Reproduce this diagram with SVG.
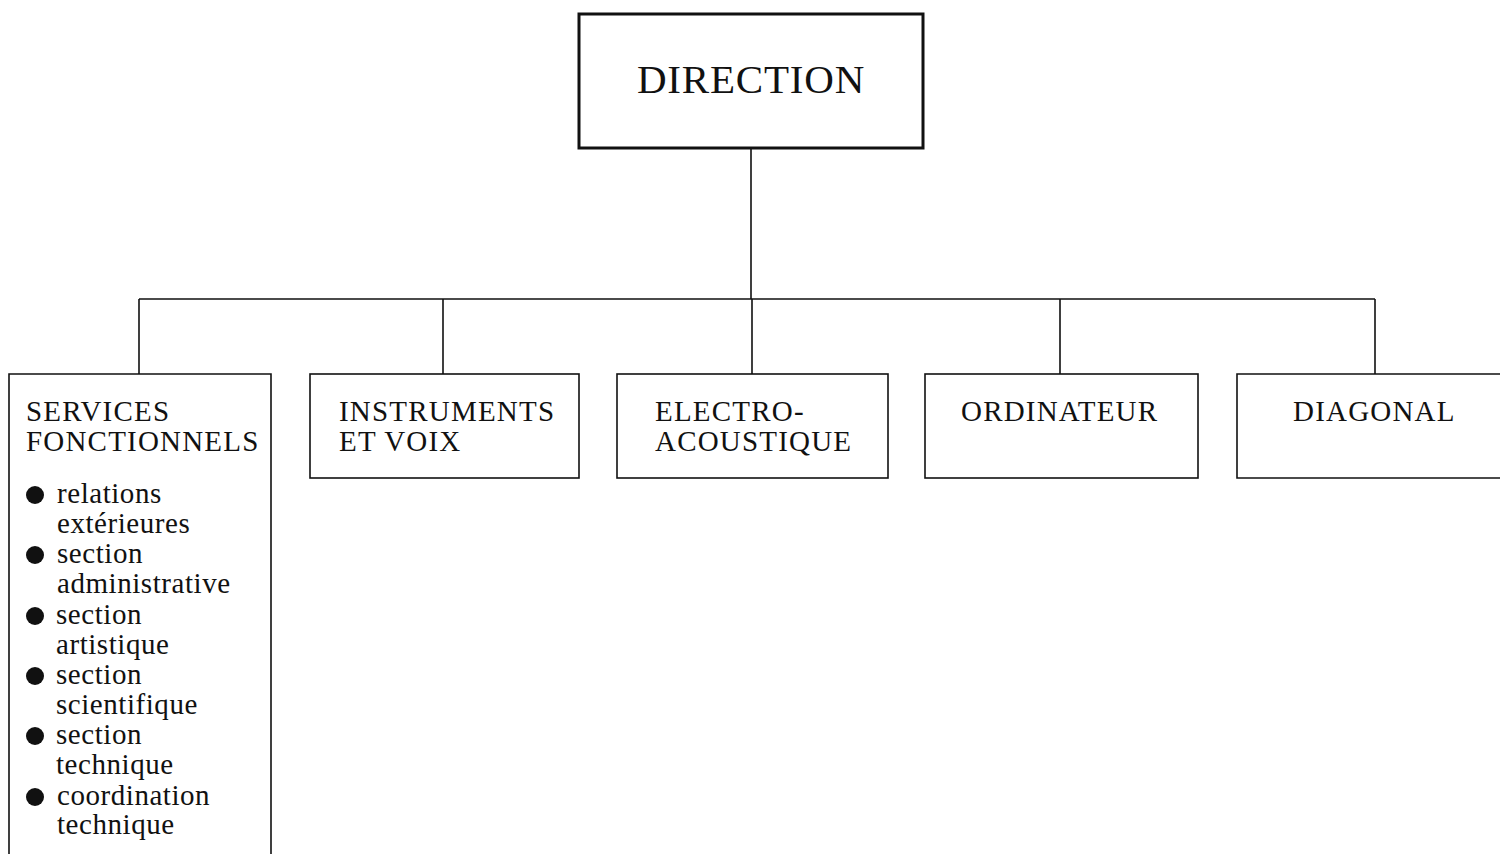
<svg xmlns="http://www.w3.org/2000/svg" width="1500" height="854" viewBox="0 0 1500 854">
<style>
.box{fill:#fff;stroke:#111;stroke-width:1.6}
.main{fill:#fff;stroke:#111;stroke-width:3}
.conn{fill:none;stroke:#111;stroke-width:1.6}
text{font-family:"Liberation Serif","Times New Roman",serif;fill:#111}
.cap{font-size:29px;letter-spacing:1.2px}
.low{font-size:29px;letter-spacing:0.55px}
.title{font-size:41px;letter-spacing:0.8px}
.dot{fill:#111}
</style>
<rect width="1500" height="854" fill="#fff"/>
<g id="connectors">
<path class="conn" d="M751 147V299M139 299H1375M139 299V374M443 299V374M752 299V374M1060 299V374M1375 299V374"/>
</g>
<g id="direction">
<rect class="main" x="579" y="14" width="344" height="134"/>
<text class="title" x="751" y="93" text-anchor="middle">DIRECTION</text>
</g>
<g id="services">
<path class="box" d="M9 854V374H271V854"/>
<text class="cap" x="26" y="421">SERVICES</text>
<text class="cap" x="26" y="451">FONCTIONNELS</text>
<g class="low">
<circle class="dot" cx="35" cy="495" r="9"/>
<text x="57" y="503">relations</text>
<text x="57" y="533">extérieures</text>
<circle class="dot" cx="35" cy="555" r="9"/>
<text x="57" y="563">section</text>
<text x="57" y="593">administrative</text>
<circle class="dot" cx="35" cy="616" r="9"/>
<text x="56" y="624">section</text>
<text x="56" y="654">artistique</text>
<circle class="dot" cx="35" cy="676" r="9"/>
<text x="56" y="684">section</text>
<text x="56" y="714">scientifique</text>
<circle class="dot" cx="35" cy="736" r="9"/>
<text x="56" y="744">section</text>
<text x="56" y="774">technique</text>
<circle class="dot" cx="35" cy="797" r="9"/>
<text x="57" y="805">coordination</text>
<text x="57" y="834">technique</text>
</g>
</g>
<g id="instruments">
<rect class="box" x="310" y="374" width="269" height="104"/>
<text class="cap" x="339" y="421">INSTRUMENTS</text>
<text class="cap" x="339" y="451">ET VOIX</text>
</g>
<g id="electro">
<rect class="box" x="617" y="374" width="271" height="104"/>
<text class="cap" x="655" y="421">ELECTRO-</text>
<text class="cap" x="655" y="451">ACOUSTIQUE</text>
</g>
<g id="ordinateur">
<rect class="box" x="925" y="374" width="273" height="104"/>
<text class="cap" x="961" y="421">ORDINATEUR</text>
</g>
<g id="diagonal">
<path class="box" d="M1500 374H1237V478H1500"/>
<text class="cap" x="1293" y="421">DIAGONAL</text>
</g>
</svg>
